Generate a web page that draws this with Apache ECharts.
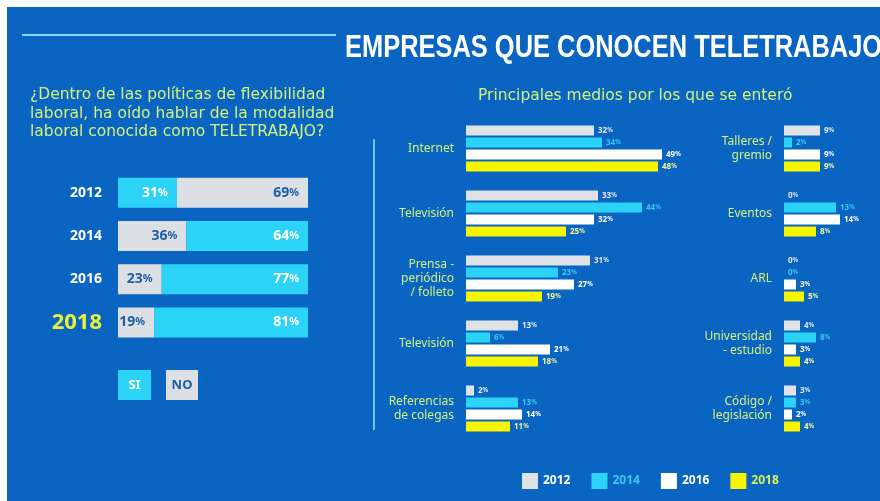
<!DOCTYPE html>
<html>
<head>
<meta charset="utf-8">
<script src="https://cdn.jsdelivr.net/npm/echarts@6/dist/echarts.min.js"></script>
<style>
  html, body { margin: 0; padding: 0; background: #fff; }
  #main { width: 880px; height: 501px; }
</style>
</head>
<body>
<div id="main"></div>
<script>
// ---- datos ----
const years = ['2012', '2014', '2016', '2018'];
const siValues = [31, 64, 77, 81];
const noValues = [69, 36, 23, 19];
const siFirst = [true, false, false, false];   // en 2012 el SI va primero

const mediosA = ['Internet', 'Televisión', 'Prensa -\nperiódico\n/ folleto', 'Televisión', 'Referencias\nde colegas'];
const mediosB = ['Talleres /\ngremio', 'Eventos', 'ARL', 'Universidad\n- estudio', 'Código /\nlegislación'];
const medA2012 = [32, 33, 31, 13, 2];
const medA2014 = [34, 44, 23, 6, 13];
const medA2016 = [49, 32, 27, 21, 14];
const medA2018 = [48, 25, 19, 18, 11];
const medB2012 = [9, 0, 0, 4, 3];
const medB2014 = [2, 13, 0, 8, 3];
const medB2016 = [9, 14, 3, 3, 2];
const medB2018 = [9, 8, 5, 4, 4];

const cyan = '#2bd3f7';
const gray = '#dcdfe4';
const green = '#d2f07a';
const barColors = ['#dfe2e7', '#2bd3f7', '#ffffff', '#f7f400'];
const labelColors = ['#e3e6ea', '#3cc8f2', '#ffffff', '#f4f59a'];

let chart = echarts.init(document.getElementById('main'));

function pctLabel(color, size) {
  return {
    show: true,
    color: color,
    fontFamily: 'Noto Sans',
    formatter: p => '{n|' + p.value + '}{p|%}',
    rich: {
      n: { fontSize: size, fontWeight: 'bold', color: color, fontFamily: 'Noto Sans' },
      p: { fontSize: size * 0.78, fontWeight: 'bold', color: color, fontFamily: 'Noto Sans' }
    }
  };
}

// barras SI / NO (izquierda)
let leftSeg = [], rightSeg = [];
years.forEach((y, i) => {
  let si = { value: siValues[i], itemStyle: { color: cyan }, label: { color: '#fff' } };
  let no = { value: noValues[i], itemStyle: { color: gray }, label: { color: '#1f5ea8' } };
  if (siFirst[i]) { leftSeg.push(si); rightSeg.push(no); }
  else { leftSeg.push(no); rightSeg.push(si); }
});

function segSeries(data) {
  let lab = pctLabel('#fff', 14);
  lab.position = 'insideRight';
  lab.offset = [-4, 0];
  lab.rich.n.color = null; lab.rich.p.color = null;
  return {
    type: 'bar', stack: 'sn', xAxisIndex: 0, yAxisIndex: 0,
    barWidth: 30, data: data, label: lab, silent: true
  };
}

function medSeries(name, idx, data, axis) {
  let lab = pctLabel(labelColors[idx], 8);
  lab.position = 'right';
  lab.distance = 4;
  return {
    name: name, type: 'bar', xAxisIndex: axis, yAxisIndex: axis,
    barWidth: 10, barGap: '20%', data: data,
    itemStyle: { color: barColors[idx] },
    label: lab
  };
}

const catLabel = {
  color: green, fontSize: 12, lineHeight: 14, fontFamily: 'Noto Sans', margin: 12
};

chart.setOption({
  backgroundColor: '#ffffff',
  animation: false,
  graphic: [
    { type: 'rect', shape: { x: 7, y: 7, width: 873, height: 494 }, style: { fill: '#0a65c2' }, z: -10 },
    { type: 'line', shape: { x1: 22, y1: 35, x2: 336, y2: 35 }, style: { stroke: '#8ad6f6', lineWidth: 2 } },
    { type: 'text', x: 345, y: 48, scaleX: 0.795,
      style: { text: 'EMPRESAS QUE CONOCEN TELETRABAJO', fill: '#fff', fontSize: 32, fontWeight: 'bold',
        fontFamily: 'Liberation Sans', align: 'left', verticalAlign: 'middle' } },
    { type: 'text', left: 30, top: 86,
      style: { text: '¿Dentro de las políticas de flexibilidad\nlaboral, ha oído hablar de la modalidad\nlaboral conocida como TELETRABAJO?',
        fill: green, fontSize: 15.5, lineHeight: 18.5, fontFamily: 'DejaVu Sans' } },
    { type: 'text', left: 478, top: 88,
      style: { text: 'Principales medios por los que se enteró', fill: green, fontSize: 15.5, fontFamily: 'DejaVu Sans' } },
    { type: 'line', shape: { x1: 374, y1: 139, x2: 374, y2: 430 }, style: { stroke: '#6cc4ef', lineWidth: 2 } },
    { type: 'rect', shape: { x: 118, y: 370, width: 33, height: 30 }, style: { fill: cyan } },
    { type: 'text', x: 134.5, y: 385, style: { text: 'SI', fill: '#fff', fontSize: 13, fontWeight: 'bold', fontFamily: 'Noto Sans', align: 'center', verticalAlign: 'middle' } },
    { type: 'rect', shape: { x: 166, y: 370, width: 32, height: 30 }, style: { fill: gray } },
    { type: 'text', x: 182, y: 385, style: { text: 'NO', fill: '#1f5ea8', fontSize: 13, fontWeight: 'bold', fontFamily: 'Noto Sans', align: 'center', verticalAlign: 'middle' } }
  ],
  legend: {
    left: 517, top: 468, itemWidth: 16, itemHeight: 16, itemGap: 21,
    icon: 'rect',
    data: years.map((y, i) => ({
      name: y,
      itemStyle: { color: barColors[i] },
      textStyle: { color: i === 1 ? '#3cc8f2' : (i === 3 ? '#d8f25a' : '#fff'), fontWeight: 'bold', fontSize: 12, fontFamily: 'Noto Sans' }
    })),
    selectedMode: false
  },
  grid: [
    { left: 118, top: 171, width: 190, height: 173 },
    { left: 466, top: 116, width: 200, height: 325 },
    { left: 784, top: 116, width: 96, height: 325 }
  ],
  xAxis: [
    { type: 'value', gridIndex: 0, min: 0, max: 100, show: false },
    { type: 'value', gridIndex: 1, min: 0, max: 50, show: false },
    { type: 'value', gridIndex: 2, min: 0, max: 24, show: false }
  ],
  yAxis: [
    { type: 'category', gridIndex: 0, inverse: true, data: years,
      axisLine: { show: false }, axisTick: { show: false },
      axisLabel: {
        margin: 16, fontFamily: 'Noto Sans', fontWeight: 'bold',
        formatter: v => v === '2018' ? '{big|' + v + '}' : '{n|' + v + '}',
        rich: {
          n: { color: '#fff', fontSize: 14, fontWeight: 'bold', fontFamily: 'Noto Sans' },
          big: { color: '#e9f23a', fontSize: 22, fontWeight: 'bold', fontFamily: 'Noto Sans' }
        }
      } },
    { type: 'category', gridIndex: 1, inverse: true, data: mediosA,
      axisLine: { show: false }, axisTick: { show: false }, axisLabel: catLabel },
    { type: 'category', gridIndex: 2, inverse: true, data: mediosB,
      axisLine: { show: false }, axisTick: { show: false }, axisLabel: catLabel }
  ],
  series: [
    segSeries(leftSeg),
    segSeries(rightSeg),
    medSeries('2012', 0, medA2012, 1),
    medSeries('2014', 1, medA2014, 1),
    medSeries('2016', 2, medA2016, 1),
    medSeries('2018', 3, medA2018, 1),
    medSeries('2012', 0, medB2012, 2),
    medSeries('2014', 1, medB2014, 2),
    medSeries('2016', 2, medB2016, 2),
    medSeries('2018', 3, medB2018, 2)
  ]
});

window.onresize = () => {
  chart.resize();
};
</script>
</body>
</html>
